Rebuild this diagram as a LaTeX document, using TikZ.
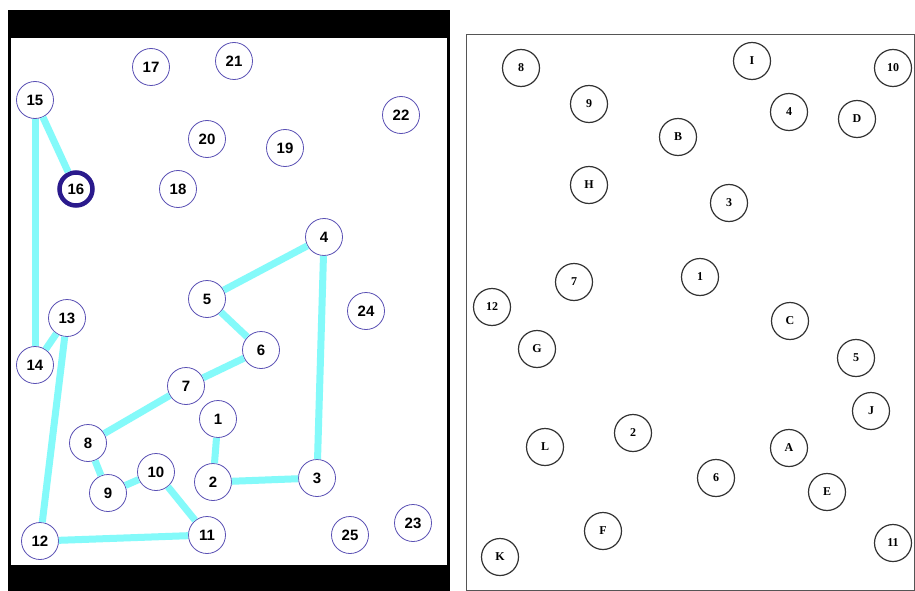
\documentclass[tikz,border=0pt]{standalone}
\usepackage{fontspec}
\setmainfont{Liberation Serif}
\setsansfont{Liberation Sans}
\usepackage{xcolor}
\usetikzlibrary{positioning}
\definecolor{ring}{HTML}{5A50B4}
\definecolor{selring}{HTML}{2A1A8C}
\definecolor{link}{HTML}{84FAFA}
\definecolor{frame}{HTML}{555555}

\begin{document}
\begin{tikzpicture}[x=1pt,y=-1pt,
  vert/.style={circle,draw=ring,fill=white,line width=0.8pt,minimum size=37pt,
               inner sep=0pt,font=\sffamily\bfseries\fontsize{15}{15}\selectfont},
  sel/.style={draw=selring,line width=4.5pt,minimum size=33pt},
  site/.style={circle,draw=black!80,fill=white,line width=1.2pt,minimum size=37pt,
               inner sep=0pt,font=\bfseries\fontsize{12}{12}\selectfont},
  tour/.style={draw=link,line width=7pt}
]
\useasboundingbox (0,0) rectangle (915,591);
% left panel
\fill[black] (8,10) rectangle (450,591);
\fill[white] (11,38) rectangle (447,565);
\node[vert] (v1) at (218,419) {1};
\node[vert] (v2) at (213,482) {2};
\node[vert] (v3) at (317,478) {3};
\node[vert] (v4) at (324,237) {4};
\node[vert] (v5) at (207,299) {5};
\node[vert] (v6) at (261,350) {6};
\node[vert] (v7) at (186,386) {7};
\node[vert] (v8) at (88,443) {8};
\node[vert] (v9) at (108,493) {9};
\node[vert] (v10) at (156,472) {10};
\node[vert] (v11) at (207,535) {11};
\node[vert] (v12) at (40,541) {12};
\node[vert] (v13) at (67,318) {13};
\node[vert] (v14) at (35,365) {14};
\node[vert] (v15) at (35,100) {15};
\node[vert,sel] (v16) at (76,189) {16};
\node[vert] (v17) at (151,67) {17};
\node[vert] (v18) at (178,189) {18};
\node[vert] (v19) at (285,148) {19};
\node[vert] (v20) at (207,139) {20};
\node[vert] (v21) at (234,61) {21};
\node[vert] (v22) at (401,115) {22};
\node[vert] (v23) at (413,523) {23};
\node[vert] (v24) at (366,311) {24};
\node[vert] (v25) at (350,535) {25};
\draw[tour] (v16) -- (v15);
\draw[tour] (v15) -- (v14);
\draw[tour] (v14) -- (v13);
\draw[tour] (v13) -- (v12);
\draw[tour] (v12) -- (v11);
\draw[tour] (v11) -- (v10);
\draw[tour] (v10) -- (v9);
\draw[tour] (v9) -- (v8);
\draw[tour] (v8) -- (v7);
\draw[tour] (v7) -- (v6);
\draw[tour] (v6) -- (v5);
\draw[tour] (v5) -- (v4);
\draw[tour] (v4) -- (v3);
\draw[tour] (v3) -- (v2);
\draw[tour] (v2) -- (v1);
% right panel
\draw[frame,line width=1pt] (466,35) rectangle (914.5,590);
\node[site] (s8) at (521,68) {8};
\node[site] (sI) at (752,61) {I};
\node[site] (s10) at (893,68) {10};
\node[site] (s9) at (589,104) {9};
\node[site] (s4) at (789,112) {4};
\node[site] (sD) at (857,119) {D};
\node[site] (sB) at (678,137) {B};
\node[site] (sH) at (589,185) {H};
\node[site] (s3) at (729,203) {3};
\node[site] (s1) at (700,277) {1};
\node[site] (s7) at (574,282) {7};
\node[site] (s12) at (492,307) {12};
\node[site] (sC) at (790,321) {C};
\node[site] (sG) at (537,349) {G};
\node[site] (s5) at (856,358) {5};
\node[site] (sJ) at (871,411) {J};
\node[site] (s2) at (633,433) {2};
\node[site] (sL) at (545,447) {L};
\node[site] (sA) at (789,448) {A};
\node[site] (s6) at (716,478) {6};
\node[site] (sE) at (827,492) {E};
\node[site] (sF) at (603,531) {F};
\node[site] (s11) at (893,543) {11};
\node[site] (sK) at (500,557) {K};
\end{tikzpicture}
\end{document}
